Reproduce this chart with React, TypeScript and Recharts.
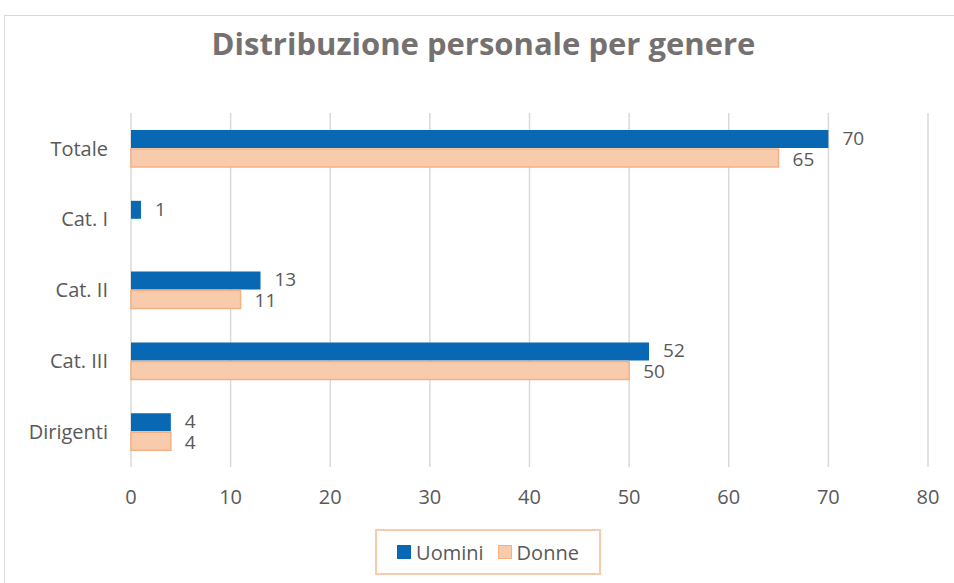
import React from 'react';
import { BarChart, Bar, XAxis, YAxis, CartesianGrid, LabelList } from 'recharts';

const categories = ['Totale', 'Cat. I', 'Cat. II', 'Cat. III', 'Dirigenti'];
const uomini = [70, 1, 13, 52, 4];
const donne: (number | null)[] = [65, null, 11, 50, 4];
const xTicks = [0, 10, 20, 30, 40, 50, 60, 70, 80];

const data = categories.map((name, i) => ({ name, Uomini: uomini[i], Donne: donne[i] }));

const FONT = '"Open Sans", "Liberation Sans", sans-serif';
const TEXT = '#595959';
const BLUE = '#0868B4';
const PEACH = '#F8CBAD';
const PEACH_EDGE = '#F4B183';

const App: React.FC = () => {
  return (
    <div style={{ position: 'absolute', left: 0, top: 0, width: 954, height: 583, background: '#fff', overflow: 'hidden' }}>
      <div
        style={{
          position: 'absolute',
          left: 4,
          top: 15,
          width: 1000,
          height: 700,
          border: '1px solid #d9d9d9',
        }}
      />
      <div
        style={{
          position: 'absolute',
          left: 0,
          top: 22,
          width: 967,
          textAlign: 'center',
          fontFamily: FONT,
          fontWeight: 700,
          fontSize: 31,
          color: '#767171',
        }}
      >
        Distribuzione personale per genere
      </div>
      <div style={{ position: 'absolute', left: 0, top: 0 }}>
        <BarChart
          width={954}
          height={583}
          data={data}
          layout="vertical"
          margin={{ top: 113, right: 26, bottom: 76, left: 0 }}
          barGap={1}
          barSize={18}
        >
          <CartesianGrid horizontal={false} stroke="#d9d9d9" strokeWidth={1.5} />
          <XAxis
            type="number"
            domain={[0, 80]}
            ticks={xTicks}
            axisLine={false}
            tickLine={false}
            tickSize={0}
            tickMargin={23}
            height={40}
            tick={{ fill: TEXT, fontSize: 20, fontFamily: FONT }}
          />
          <YAxis
            type="category"
            dataKey="name"
            width={131}
            axisLine={false}
            tickLine={false}
            tickSize={0}
            tickMargin={23}
            tick={{ fill: TEXT, fontSize: 20, fontFamily: FONT }}
          />
          <Bar dataKey="Uomini" fill={BLUE} isAnimationActive={false}>
            <LabelList dataKey="Uomini" position="right" offset={14} dy={-1} fill={TEXT} fontSize={19} fontFamily={FONT} />
          </Bar>
          <Bar dataKey="Donne" fill={PEACH} stroke={PEACH_EDGE} strokeWidth={1.5} isAnimationActive={false}>
            <LabelList dataKey="Donne" position="right" offset={14} dy={1} fill={TEXT} fontSize={19} fontFamily={FONT} />
          </Bar>
        </BarChart>
      </div>
      <div
        style={{
          position: 'absolute',
          left: 375,
          top: 529,
          width: 226,
          height: 46,
          border: '2px solid #F8CBAD',
          boxSizing: 'border-box',
          display: 'flex',
          alignItems: 'center',
          justifyContent: 'center',
          gap: 14,
          fontFamily: FONT,
          fontSize: 20,
          color: TEXT,
        }}
      >
        <span style={{ display: 'flex', alignItems: 'center' }}>
          <span style={{ width: 14, height: 14, background: BLUE, marginRight: 5 }} />
          Uomini
        </span>
        <span style={{ display: 'flex', alignItems: 'center' }}>
          <span style={{ width: 12, height: 12, background: PEACH, border: '1.5px solid ' + PEACH_EDGE, marginRight: 5 }} />
          Donne
        </span>
      </div>
    </div>
  );
};

export default App;
